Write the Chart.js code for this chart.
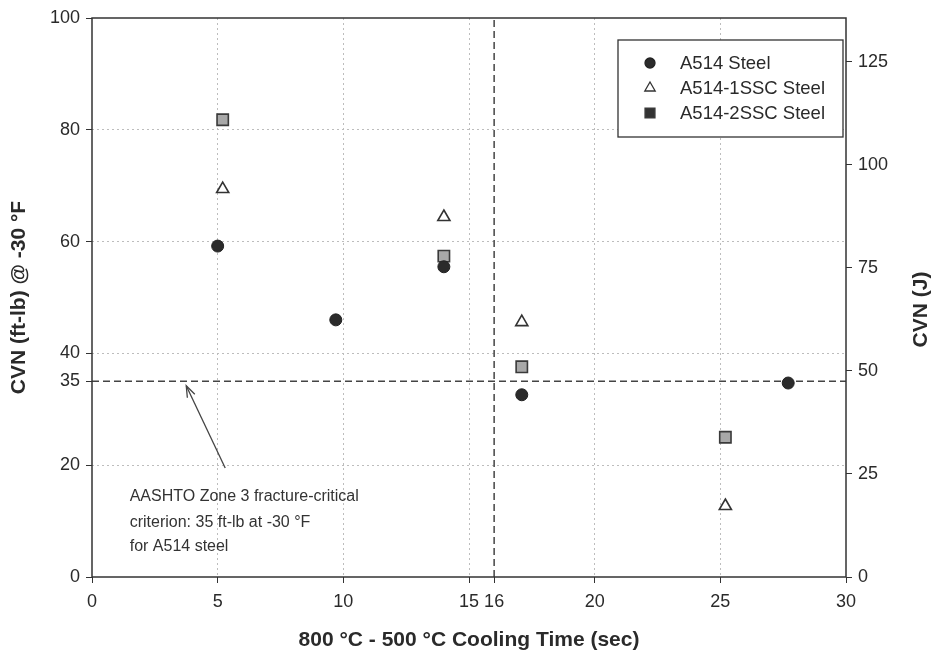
<!DOCTYPE html>
<html>
<head>
<meta charset="utf-8">
<script src="https://cdn.jsdelivr.net/npm/chart.js@4.4.0/dist/chart.umd.min.js"></script>
<style>
  html, body { margin: 0; padding: 0; background: #fff; }
  #wrap { width: 934px; height: 665px; }
</style>
</head>
<body>
<div id="wrap"><canvas id="c" width="934" height="665"></canvas></div>
<script>
// cooling time (sec) and CVN (ft-lb @ -30 F)
const a514X = [5.0, 9.7, 14.0, 17.1, 27.7];
const a514Y = [59.2, 46.0, 55.5, 32.6, 34.7];
const ssc1X = [5.2, 14.0, 17.1, 25.2];
const ssc1Y = [69.4, 64.4, 45.6, 12.7];
const ssc2X = [5.2, 14.0, 17.1, 25.2];
const ssc2Y = [81.8, 57.4, 37.6, 25.0];

const criterionY = 35;   // AASHTO line
const criterionX = 16;   // cooling time limit
const xTicks = [0, 5, 10, 15, 16, 20, 25, 30];
const yTicks = [0, 20, 35, 40, 60, 80, 100];
const jTicks = [0, 25, 50, 75, 100, 125];
const FTLB_TO_J = 1.35582;

const noteLines = ['AASHTO Zone 3 fracture-critical', 'criterion: 35 ft-lb at -30 \u00B0F', 'for A514 steel'];
const noteX = 1.5;
const noteY = [14.3, 9.8, 5.4];
const arrowFrom = [5.3, 19.5];
const arrowTo = [3.75, 34.2];

const toPts = (xs, ys) => xs.map((x, i) => ({ x: x, y: ys[i] }));
const font = 'Liberation Sans, Arial, sans-serif';
const ink = '#2a2a2a';

const frame = {
  id: 'frame',
  afterDraw(chart) {
    const { ctx, chartArea: a, scales } = chart;
    const sx = scales.x, sy = scales.y;
    ctx.save();
    ctx.strokeStyle = '#333';
    ctx.lineWidth = 1.5;
    ctx.strokeRect(a.left, a.top, a.right - a.left, a.bottom - a.top);

    // annotation text
    ctx.fillStyle = '#333';
    ctx.font = '16px ' + font;
    ctx.textBaseline = 'middle';
    noteLines.forEach((t, i) => ctx.fillText(t, sx.getPixelForValue(noteX), sy.getPixelForValue(noteY[i])));

    // arrow
    const x0 = sx.getPixelForValue(arrowFrom[0]), y0 = sy.getPixelForValue(arrowFrom[1]);
    const x1 = sx.getPixelForValue(arrowTo[0]), y1 = sy.getPixelForValue(arrowTo[1]);
    ctx.strokeStyle = '#444';
    ctx.lineWidth = 1.3;
    ctx.beginPath(); ctx.moveTo(x0, y0); ctx.lineTo(x1, y1); ctx.stroke();
    const ang = Math.atan2(y1 - y0, x1 - x0);
    ctx.beginPath();
    ctx.moveTo(x1 - 12 * Math.cos(ang - 0.35), y1 - 12 * Math.sin(ang - 0.35));
    ctx.lineTo(x1, y1);
    ctx.lineTo(x1 - 12 * Math.cos(ang + 0.35), y1 - 12 * Math.sin(ang + 0.35));
    ctx.stroke();

    // right axis title, reading bottom to top
    ctx.save();
    ctx.translate(921, (a.top + a.bottom) / 2 + 12);
    ctx.rotate(-Math.PI / 2);
    ctx.font = 'bold 21px ' + font;
    ctx.fillStyle = ink;
    ctx.textAlign = 'center';
    ctx.fillText('CVN (J)', 0, 0);
    ctx.restore();

    // legend box
    const ds = chart.data.datasets.slice(0, 3);
    const bx = a.right - 228, by = a.top + 22, bw = 225, bh = 97;
    ctx.fillStyle = '#fff';
    ctx.fillRect(bx, by, bw, bh);
    ctx.strokeStyle = '#333';
    ctx.lineWidth = 1.3;
    ctx.strokeRect(bx, by, bw, bh);
    ds.forEach((d, i) => {
      const cy = by + 23 + i * 25;
      ctx.fillStyle = d.label === 'A514-2SSC Steel' ? '#333' : d.backgroundColor;
      ctx.strokeStyle = d.borderColor;
      ctx.lineWidth = 1.3;
      Chart.helpers.drawPoint(ctx, { pointStyle: d.pointStyle, radius: d.pointRadius - 1, borderWidth: 1.3 }, bx + 32, cy);
      ctx.fillStyle = ink;
      ctx.font = '18.5px ' + font;
      ctx.textAlign = 'left';
      ctx.fillText(d.label, bx + 62, cy + 1);
    });
    ctx.restore();
  }
};

new Chart(document.getElementById('c'), {
  type: 'scatter',
  data: {
    datasets: [
      {
        label: 'A514 Steel',
        data: toPts(a514X, a514Y),
        pointStyle: 'circle',
        pointRadius: 6,
        backgroundColor: '#2b2b2b',
        borderColor: '#222',
        borderWidth: 1,
        order: 1,
      },
      {
        label: 'A514-1SSC Steel',
        data: toPts(ssc1X, ssc1Y),
        pointStyle: 'triangle',
        pointRadius: 7,
        backgroundColor: '#fff',
        borderColor: '#333',
        borderWidth: 1.6,
        order: 1,
      },
      {
        label: 'A514-2SSC Steel',
        data: toPts(ssc2X, ssc2Y),
        pointStyle: 'rect',
        pointRadius: 8,
        backgroundColor: '#a8a8a8',
        borderColor: '#3a3a3a',
        borderWidth: 1.6,
        order: 1,
      },
      {
        type: 'line',
        label: 'criterion',
        data: [{ x: 0, y: criterionY }, { x: 30, y: criterionY }],
        borderColor: '#444',
        borderWidth: 1.5,
        borderDash: [7, 4],
        pointRadius: 0,
        order: 2,
      },
      {
        type: 'line',
        label: 'time limit',
        data: [{ x: criterionX, y: 0 }, { x: criterionX, y: 100 }],
        borderColor: '#444',
        borderWidth: 1.5,
        borderDash: [7, 4],
        pointRadius: 0,
        order: 2,
      },
    ],
  },
  options: {
    animation: false,
    responsive: false,
    layout: { padding: { top: 18, left: 0, right: 0, bottom: 0 } },
    plugins: {
      legend: { display: false },
      tooltip: { enabled: false },
    },
    scales: {
      x: {
        type: 'linear',
        min: 0,
        max: 30,
        afterBuildTicks: (s) => { s.ticks = xTicks.map((v) => ({ value: v })); },
        afterFit: (s) => { s.height = 88; },
        ticks: { color: ink, font: { family: font, size: 18 }, padding: 8, maxRotation: 0, autoSkip: false },
        grid: {
          color: (c) => ([5, 10, 15, 20, 25].includes(c.tick.value) ? '#bdbdbd' : 'rgba(0,0,0,0)'),
          tickColor: '#333',
          tickLength: 6,
          lineWidth: 1,
        },
        border: { display: false, dash: [2, 3] },
        title: {
          display: true,
          text: '800 \u00B0C - 500 \u00B0C Cooling Time (sec)',
          color: ink,
          font: { family: font, size: 21, weight: 'bold' },
          padding: { top: 0, bottom: 12 },
        },
      },
      y: {
        type: 'linear',
        position: 'left',
        min: 0,
        max: 100,
        afterBuildTicks: (s) => { s.ticks = yTicks.map((v) => ({ value: v })); },
        afterFit: (s) => { s.width = 92; },
        ticks: { color: ink, font: { family: font, size: 18 }, padding: 6, autoSkip: false },
        grid: {
          color: (c) => ([20, 40, 60, 80].includes(c.tick.value) ? '#bdbdbd' : 'rgba(0,0,0,0)'),
          tickColor: '#333',
          tickLength: 6,
        },
        border: { display: false, dash: [2, 3] },
        title: {
          display: true,
          text: 'CVN (ft-lb) @ -30 \u00B0F',
          color: ink,
          font: { family: font, size: 21, weight: 'bold' },
          padding: { top: 7, bottom: 0 },
        },
      },
      yJ: {
        type: 'linear',
        position: 'right',
        min: 0,
        max: 100 * FTLB_TO_J,
        afterBuildTicks: (s) => { s.ticks = jTicks.map((v) => ({ value: v })); },
        afterFit: (s) => { s.width = 88; },
        ticks: { color: ink, font: { family: font, size: 18 }, padding: 6, autoSkip: false },
        grid: { drawOnChartArea: false, tickColor: '#333', tickLength: 6 },
        border: { display: false },
      },
    },
  },
  plugins: [frame],
});
</script>
</body>
</html>
